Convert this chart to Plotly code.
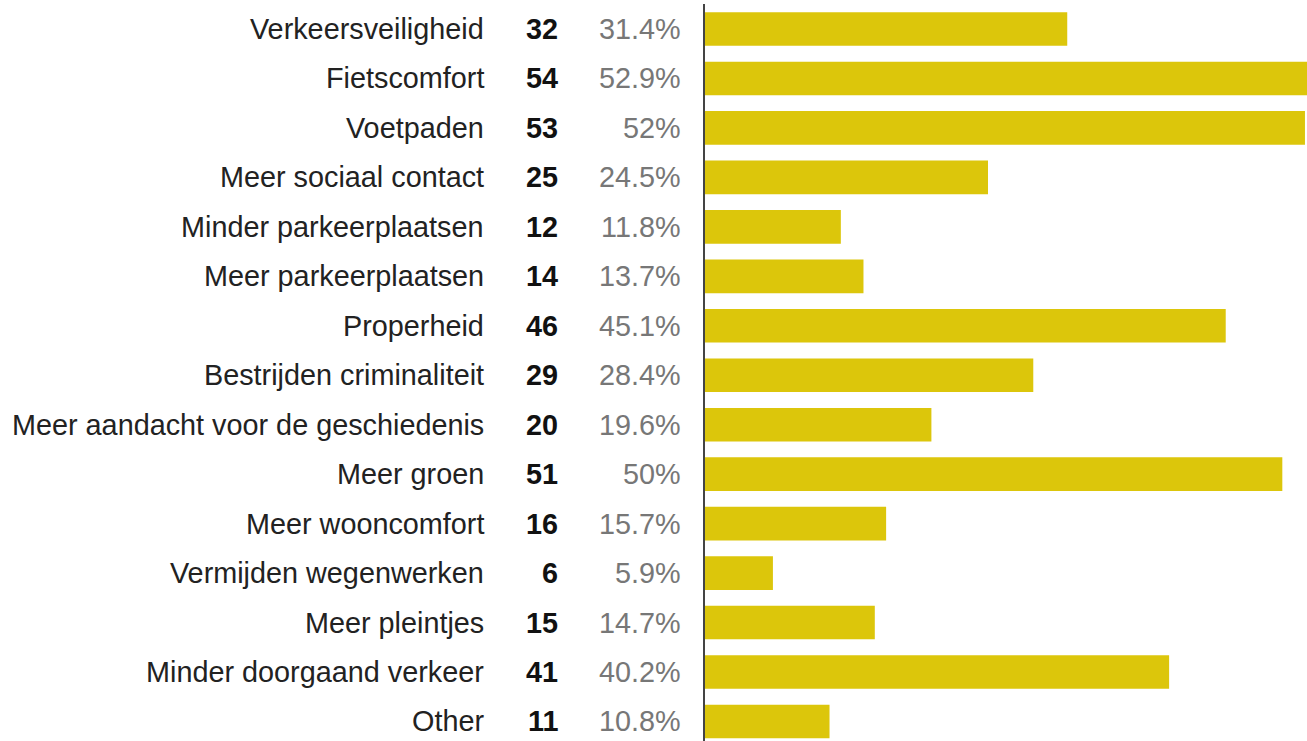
import plotly.graph_objects as go

categories = [
    "Verkeersveiligheid", "Fietscomfort", "Voetpaden", "Meer sociaal contact",
    "Minder parkeerplaatsen", "Meer parkeerplaatsen", "Properheid",
    "Bestrijden criminaliteit", "Meer aandacht voor de geschiedenis", "Meer groen",
    "Meer wooncomfort", "Vermijden wegenwerken", "Meer pleintjes",
    "Minder doorgaand verkeer", "Other",
]
counts = [32, 54, 53, 25, 12, 14, 46, 29, 20, 51, 16, 6, 15, 41, 11]
percents = [31.4, 52.9, 52, 24.5, 11.8, 13.7, 45.1, 28.4, 19.6, 50, 15.7, 5.9, 14.7, 40.2, 10.8]

BAR_COLOR = "#DCC60B"
FONT = "Liberation Sans, Arial, Helvetica, sans-serif"
FS = 28.8

W, H = 1307, 741
ML, MR, MT, MB = 705, 0, 4, 0
plot_w = W - ML - MR

fig = go.Figure()
fig.add_trace(go.Bar(
    x=counts, y=categories, orientation="h",
    marker=dict(color=BAR_COLOR, line=dict(width=0)),
    width=0.68, hoverinfo="skip",
))

def page_to_paper(px):
    # desired right edge of text on the page -> annotation anchor in paper coords
    return (px + 3 - ML) / plot_w

annotations = []
for cat, c, p in zip(categories, counts, percents):
    annotations.append(dict(
        x=page_to_paper(483), xref="paper", y=cat, yref="y", text=cat,
        showarrow=False, xanchor="right", yanchor="middle",
        font=dict(family=FONT, size=FS, color="#222222"),
    ))
    annotations.append(dict(
        x=page_to_paper(557), xref="paper", y=cat, yref="y", text=f"<b>{c}</b>",
        showarrow=False, xanchor="right", yanchor="middle",
        font=dict(family=FONT, size=FS, color="#111111"),
    ))
    annotations.append(dict(
        x=page_to_paper(680), xref="paper", y=cat, yref="y", text=f"{p:g}%",
        showarrow=False, xanchor="right", yanchor="middle",
        font=dict(family=FONT, size=FS, color="#777777"),
    ))

fig.update_layout(
    width=W, height=H,
    margin=dict(l=ML, r=MR, t=MT, b=MB, pad=0),
    paper_bgcolor="white", plot_bgcolor="white",
    showlegend=False,
    annotations=annotations,
    xaxis=dict(range=[0, 53.18], showgrid=False, zeroline=False,
               showticklabels=False, ticks="", showline=False),
    yaxis=dict(type="category", categoryorder="array", categoryarray=categories,
               range=[14.395, -0.5055], showgrid=False, zeroline=False,
               showticklabels=False, ticks="", showline=True,
               linecolor="#444444", linewidth=2),
    bargap=0.32,
)

fig.write_html(
    "out.html",
    config={"displayModeBar": False},
    post_script="document.body.style.margin='0';document.body.style.overflow='hidden';",
)
